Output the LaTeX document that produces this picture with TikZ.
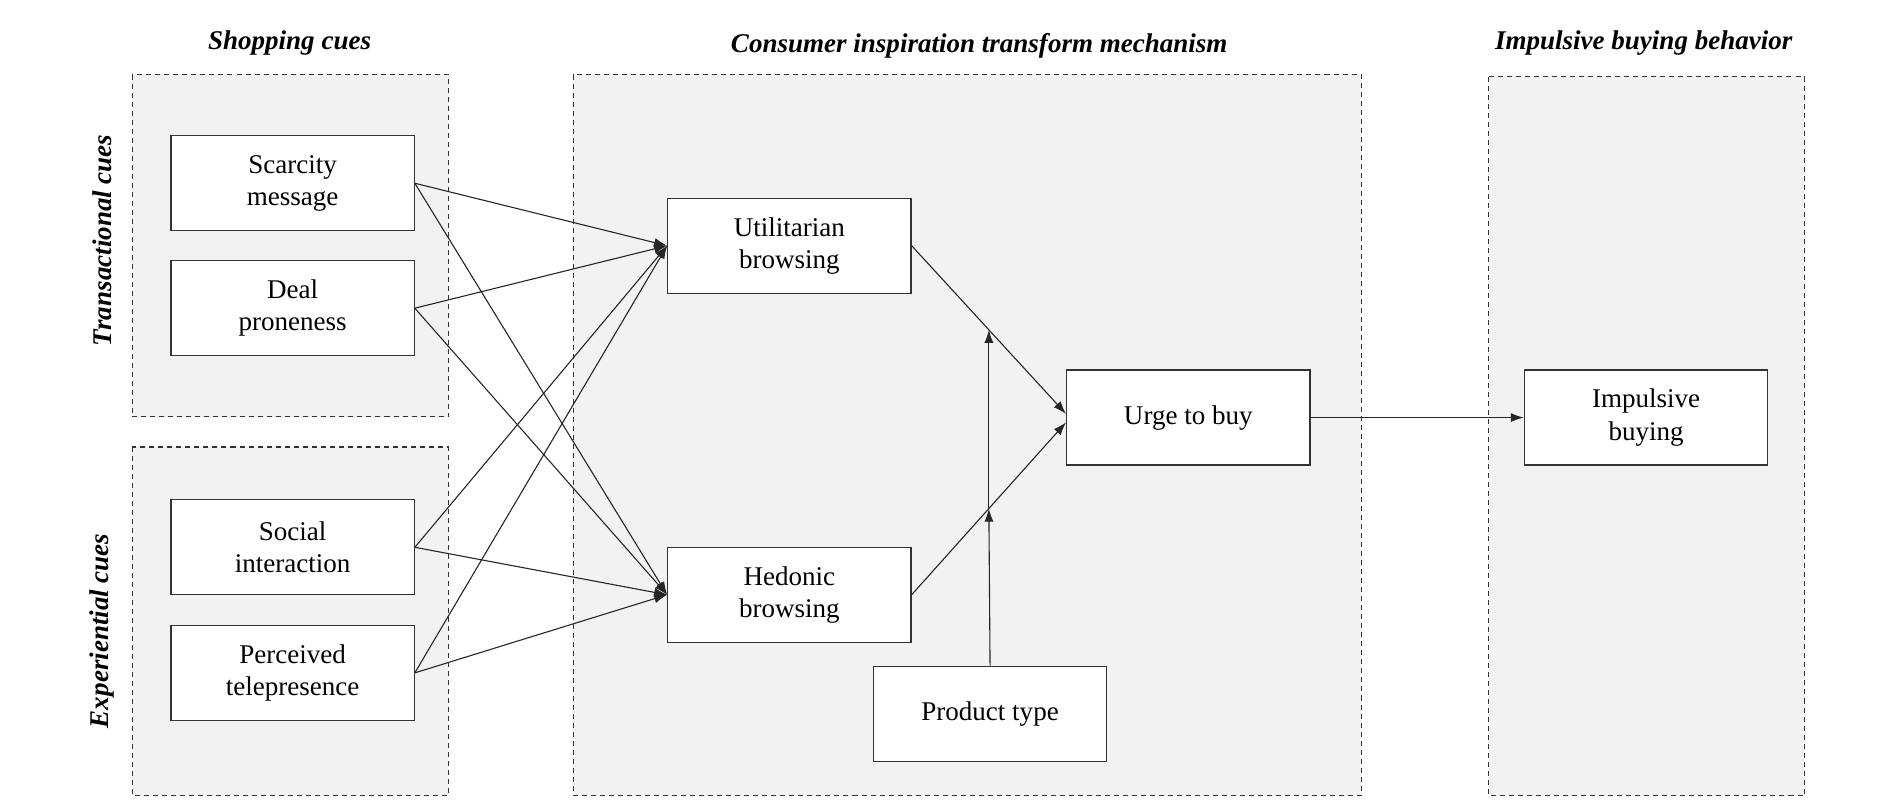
\documentclass[tikz,border=0pt]{standalone}
\usepackage{fontspec}
\setmainfont{Liberation Serif}
\usetikzlibrary{arrows.meta,positioning,calc}
\tikzset{
  box/.style={draw=black!80,fill=white,line width=1.2pt,minimum width=243pt,minimum height=95pt,align=center,
    font=\fontsize{27}{32}\selectfont,inner sep=2pt},
  group/.style={draw=black!80,line width=1.1pt,dash pattern=on 5pt off 4pt,fill=black!5},
  title/.style={font=\fontsize{27}{32}\selectfont\bfseries\itshape},
  link/.style={draw=black!85,-{Latex[length=13pt,width=9pt]},line width=1.1pt}
}
\begin{document}
\begin{tikzpicture}[x=1.2pt,y=-1.2pt]
  \useasboundingbox (0,0) rectangle (1568,665);

  % groups
  \draw[group] (110,62) rectangle (373,347);
  \draw[group] (110,372) rectangle (373,662);
  \draw[group] (477,62) rectangle (1133,662);
  \draw[group] (1239,64) rectangle (1502,662);

  \node[title] (tshop) at (241,36) {Shopping cues};
  \node[title] (tmech) at (815,38) {Consumer inspiration transform mechanism};
  \node[title] (timp) at (1368,36) {Impulsive buying behavior};
  \node[title,rotate=90] (ttrans) at (85,200) {Transactional cues};
  \node[title,rotate=90] (texp) at (85,525) {Experiential cues};

  % boxes
  \node[box] (scar) at (243.5,152.5) {Scarcity\\message};
  \node[box] (deal) at (243.5,256.5) {Deal\\proneness};
  \node[box] (soc) at (243.5,455.5) {Social\\interaction};
  \node[box] (tele) at (243.5,560) {Perceived\\telepresence};
  \node[box] (util) at (657,204.5) {Utilitarian\\browsing};
  \node[box] (hed) at (657,495) {Hedonic\\browsing};
  \node[box] (urge) at (989,347.5) {Urge to buy};
  \node[box,minimum width=233pt] (prod) at (824,594) {Product type};
  \node[box] (imp) at (1370,347.5) {Impulsive\\buying};

  % links
  \foreach \s in {scar,deal,soc,tele}{
    \draw[link] (\s.east) -- (util.west);
    \draw[link] (\s.east) -- (hed.west);
  }
  \coordinate (uin) at ($(urge.west)+(0,-3)$);
  \coordinate (hin) at ($(urge.west)+(0,4)$);
  \draw[link] (util.east) -- (uin);
  \draw[link] (hed.east) -- (hin);
  \coordinate (umod) at ($(util.east)!0.5!(uin)$);
  \coordinate (hmod) at ($(hed.east)!0.5!(hin)$);
  \draw[link] (prod.north) -- (hmod);
  \draw[link] (hmod) -- (umod);
  \draw[link] (urge.east) -- (imp.west);
\end{tikzpicture}
\end{document}
